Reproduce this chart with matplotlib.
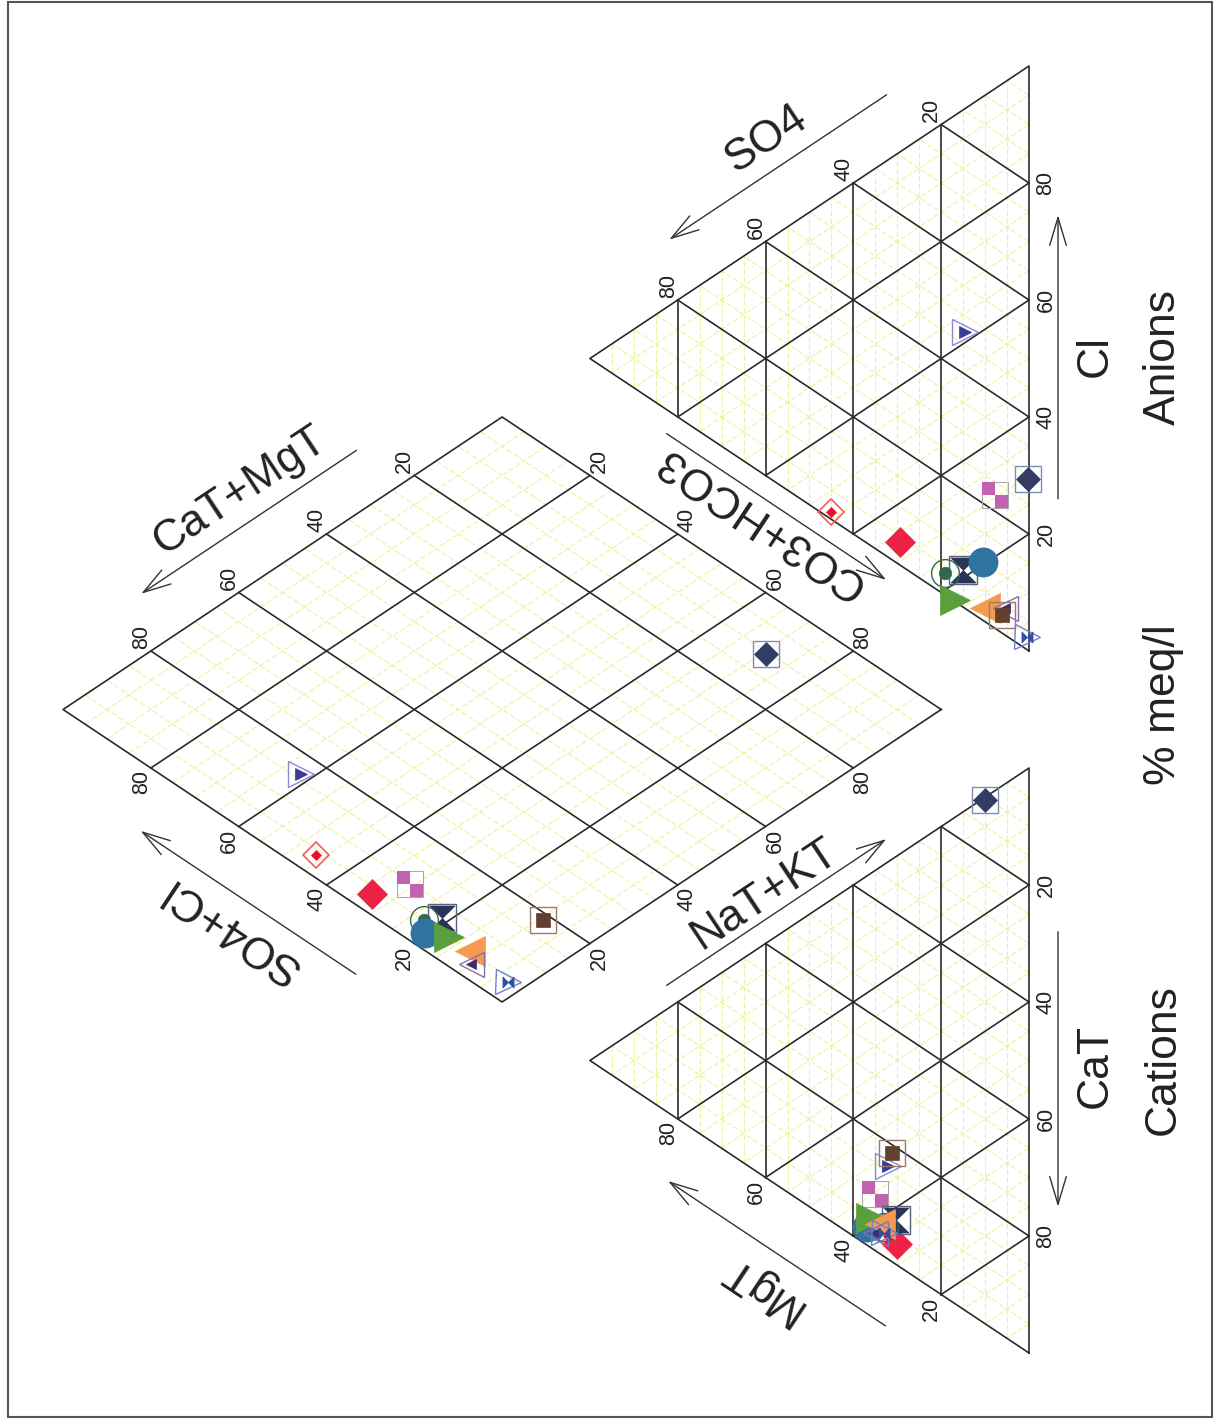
import numpy as np
import matplotlib.pyplot as plt
from matplotlib.path import Path
from matplotlib.patches import Rectangle

plt.rcParams['font.family'] = ['Liberation Sans', 'DejaVu Sans']

# sample chemistry, % meq/l
samples = ['a', 'b', 'c', 'd', 'e', 'f', 'g', 'h', 'i', 'j', 'k', 'l', 'm']
ca = [0.5, 52.0, 64.0, 66.4, 55.4, 62.2, 62.0, 60.0, 59.0, 61.0, 62.0, 63.0, 50.2]
mg = [10.0, 32.0, 32.0, 30.0, 35.0, 30.3, 33.0, 37.0, 36.0, 34.0, 35.0, 33.0, 31.2]
nak = [89.5, 16.0, 4.0, 3.6, 9.6, 7.5, 5.0, 3.0, 5.0, 5.0, 3.0, 4.0, 18.6]
hco3 = [70.5, 38.2, 53.7, 66.7, 69.4, 78.7, 77.1, 79.5, 82.8, 87.6, 89.9, 97.3, 90.7]
so4 = [0.3, 14.6, 45.0, 29.4, 7.8, 15.0, 19.1, 10.5, 16.9, 10.0, 5.5, 0.5, 6.2]
cl = [29.2, 47.2, 1.3, 3.9, 22.8, 6.3, 3.8, 10.0, 0.3, 2.4, 4.6, 2.2, 3.1]

ticks = [20, 40, 60, 80]

# page geometry (the whole diagram is turned 90 degrees)
W, H = 1215, 1423
SX, SY = 507.0, 585.0          # pixels per unit across / along the page
X0, Y0 = 1029.0, 1353.0        # pixel position of the Ca corner
h = np.sqrt(3) / 2
g = 0.2

hourglass = Path([(-1, 1), (1, 1), (-1, -1), (1, -1), (-1, 1)],
                 [Path.MOVETO, Path.LINETO, Path.LINETO, Path.LINETO, Path.CLOSEPOLY])
bowtie = Path([(-1, 1), (-1, -1), (1, 1), (1, -1), (-1, 1)],
              [Path.MOVETO, Path.LINETO, Path.LINETO, Path.LINETO, Path.CLOSEPOLY])
checker = Path([(-1, 0), (0, 0), (0, 1), (-1, 1), (-1, 0),
                (0, -1), (1, -1), (1, 0), (0, 0), (0, -1)],
               [Path.MOVETO, Path.LINETO, Path.LINETO, Path.LINETO, Path.CLOSEPOLY] * 2)

# marker layers for each sample: (marker, size, face, edge, lw)
styles = [
    [('s', 19, 'none', '#7d8db5', 1.0), ('D', 12.5, '#323c64', '#323c64', 0.5)],
    [('>', 19, 'none', '#8a8ad6', 1.0), ('>', 8, '#3a3a99', '#3a3a99', 0.5)],
    [('D', 13, 'none', '#f25c5c', 1.2), ('D', 5, '#e8102e', '#e8102e', 0.5)],
    [('D', 15, '#ee2244', '#ee2244', 0.5)],
    [('s', 19, 'none', '#aaaaaa', 0.8), (checker, 19, '#c062b0', 'none', 0)],
    [('s', 20, 'none', '#5a6080', 1.0), (hourglass, 18, '#2a3358', '#2a3358', 0.5)],
    [('o', 20, 'none', '#2c6a4a', 1.0), ('o', 9, '#2c6a4a', '#2c6a4a', 0.5)],
    [('o', 21, '#2f73a3', '#2f73a3', 0.5)],
    [('>', 22, '#5b9e3c', '#5b9e3c', 0.5)],
    [('<', 22, '#f49a4e', '#f49a4e', 0.5)],
    [('<', 18, 'none', '#8a6fb0', 1.0), ('<', 7, '#3d2b6b', '#3d2b6b', 0.5)],
    [('>', 18, 'none', '#7080d0', 1.0), (bowtie, 8, '#3050a8', '#3050a8', 0.5)],
    [('s', 19, 'none', '#9a7a6a', 1.0), ('s', 10, '#62402f', '#62402f', 0.5)],
]


def uv(x, y):
    return (-y, x)


def cation_xy(c, m, n):
    t = c + m + n
    return uv((n + m / 2) / t, m / t * h)


def anion_xy(b, s, c):
    t = b + s + c
    return uv(1 + g + (c + s / 2) / t, s / t * h)


def diamond_xy(cm, sc):
    x = 1 + g / 2 - 0.5 * cm + 0.5 * sc
    y = g * h + h * (cm + sc)
    return uv(x, y)


def px(p):
    return np.array([p[0] * SX, p[1] * SY])


def along(p0, p1, t, off, inside):
    a, b, c = px(p0), px(p1), px(inside)
    d = (b - a) / np.linalg.norm(b - a)
    n = np.array([-d[1], d[0]])
    if np.dot(n, c - a) > 0:
        n = -n
    q = a + t * (b - a) + off * n
    return q[0] / SX, q[1] / SY


C0, C1, C2 = uv(0, 0), uv(1, 0), uv(0.5, h)
A0, A1, A2 = uv(1 + g, 0), uv(2 + g, 0), uv(1.5 + g, h)
D0 = uv(1 + g / 2, g * h)
D1 = uv(0.5 + g / 2, g * h + h)
D2 = uv(1 + g / 2, g * h + 2 * h)
D3 = uv(1.5 + g / 2, g * h + h)
cat_c = np.mean([C0, C1, C2], axis=0)
an_c = np.mean([A0, A1, A2], axis=0)
dia_c = np.mean([D0, D1, D2, D3], axis=0)

fig = plt.figure(figsize=(W / 100, H / 100), dpi=100)
ax = fig.add_axes([0, 0, 1, 1])
ax.set_xlim(-X0 / SX, (W - X0) / SX)
ax.set_ylim((Y0 - H) / SY, Y0 / SY)
ax.axis('off')

yel = dict(color='#eef29a', lw=0.8, ls=(0, (5, 2)), zorder=1)
blk = dict(color='#2a2a2a', lw=1.2, zorder=2)


def seg(p, q, style):
    ax.plot([p[0], q[0]], [p[1], q[1]], **style)


def lerp(p, q, f):
    return (p[0] + f * (q[0] - p[0]), p[1] + f * (q[1] - p[1]))


# triangles grid
for P, Q, R in [(C0, C1, C2), (A0, A1, A2)]:
    for k in range(1, 20):
        f = k / 20
        st = blk if k % 4 == 0 else yel
        seg(lerp(P, R, f), lerp(Q, R, f), st)
        seg(lerp(P, Q, f), lerp(R, Q, f), st)
        seg(lerp(Q, P, f), lerp(R, P, f), st)
    ax.plot([P[0], Q[0], R[0], P[0]], [P[1], Q[1], R[1], P[1]], **blk)

# diamond grid
for k in range(1, 20):
    f = k / 20
    st = blk if k % 4 == 0 else yel
    seg(diamond_xy(f, 0), diamond_xy(f, 1), st)
    seg(diamond_xy(0, f), diamond_xy(1, f), st)
ax.plot([D0[0], D1[0], D2[0], D3[0], D0[0]], [D0[1], D1[1], D2[1], D3[1], D0[1]], **blk)

# tick labels
tick_edges = [
    (C0, C1, cat_c, True), (C0, C2, cat_c, False),
    (A0, A1, an_c, False), (A1, A2, an_c, False),
    (D1, D2, dia_c, False), (D3, D2, dia_c, False),
    (D3, D0, dia_c, False), (D1, D0, dia_c, False),
]
for p0, p1, cen, rev in tick_edges:
    for v in ticks:
        t = v / 100
        lab = 100 - v if rev else v
        x, y = along(p0, p1, t, 17, cen)
        ax.text(x, y, str(lab), rotation=90, ha='center', va='center',
                fontsize=15.5, color='#222222')

# axis titles and arrows
ang_up = np.degrees(np.arctan2(292.5, 440))
ang_dn = 180 - ang_up
titles = [
    ('CaT', C0, C1, 0.49, 66, 29, (0.72, 0.25), 90, cat_c),
    ('MgT', C0, C2, 0.49, 95, 57, (0.255, 0.75), ang_dn, cat_c),
    ('NaT+KT', C2, C1, 0.45, 42, 20, (0.2, 0.7), ang_up, cat_c),
    ('Cl', A0, A1, 0.505, 66, 29, (0.26, 0.745), 90, an_c),
    ('SO4', A1, A2, 0.49, 85, 55, (0.255, 0.75), ang_up, an_c),
    ('CO3+HCO3', A0, A2, 0.56, 42, 20, (0.8, 0.3), ang_dn, an_c),
    ('SO4+Cl', D1, D2, 0.505, 90, 58, (0.26, 0.75), ang_dn, dia_c),
    ('CaT+MgT', D3, D2, 0.49, 84, 53, (0.265, 0.755), ang_up, dia_c),
]
for txt, p0, p1, t, toff, aoff, (ta, tb), rot, cen in titles:
    x, y = along(p0, p1, t, toff, cen)
    ax.text(x, y, txt, rotation=rot, ha='center', va='center', fontsize=32,
            color='#222222', rotation_mode='anchor')
    s = along(p0, p1, ta, aoff, cen)
    e = along(p0, p1, tb, aoff, cen)
    ax.annotate('', xy=e, xytext=s,
                arrowprops=dict(arrowstyle='->,head_length=1.0,head_width=0.3',
                                lw=1.0, color='#333333', shrinkA=0, shrinkB=0,
                                mutation_scale=20))

# page titles
for txt, yy in [('Cations', 1060), ('% meq/l', 705), ('Anions', 357)]:
    ax.text((1163 - X0) / SX, (Y0 - yy) / SY, txt, rotation=90, ha='center',
            va='center', fontsize=32, color='#222222')

# samples
for i in range(len(samples)):
    cm = (ca[i] + mg[i]) / (ca[i] + mg[i] + nak[i])
    sc = (so4[i] + cl[i]) / (hco3[i] + so4[i] + cl[i])
    pts = [cation_xy(ca[i], mg[i], nak[i]), anion_xy(hco3[i], so4[i], cl[i]),
           diamond_xy(cm, sc)]
    for x, y in pts:
        for mk, ms, fc, ec, lw in styles[i]:
            ax.plot(x, y, marker=mk, ms=ms, mfc=fc, mec=ec, mew=lw,
                    ls='none', zorder=5 + i)

fig.add_artist(Rectangle((8 / W, 1 - 1417 / H), 1204 / W, 1415 / H,
                         transform=fig.transFigure, fill=False,
                         ec='#555555', lw=1.5))

fig.savefig('out.png', dpi=100)
